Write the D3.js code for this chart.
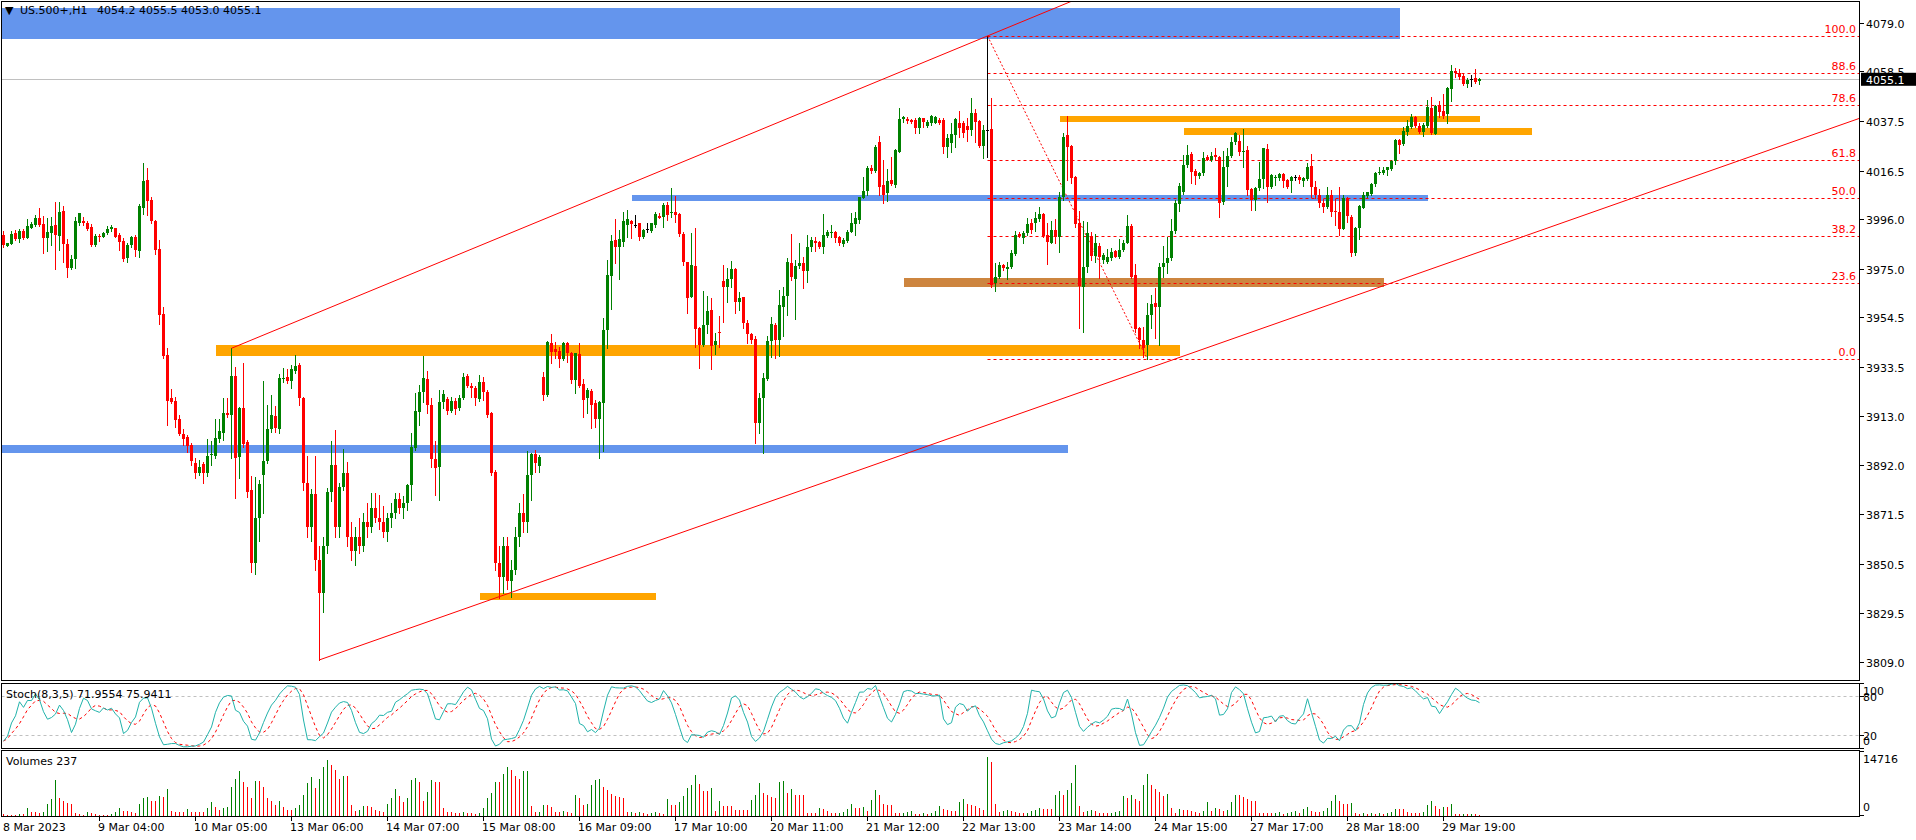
<!DOCTYPE html>
<html><head><meta charset="utf-8">
<script src="https://cdn.jsdelivr.net/npm/d3@7"></script>
<style>
body{margin:0;background:#fff;overflow:hidden}
svg{display:block}
text{font-family:"DejaVu Sans",Verdana,sans-serif;font-size:11px;white-space:pre}
</style></head><body>
<svg id="chart" width="1916" height="840"></svg>
<script>
// ---------------- DATA ----------------
const titleMarker = "▼";
const titleSymbol = "US.500+,H1";
const titleOHLC = "4054.2 4055.5 4053.0 4055.1";
const stochTitle = "Stoch(8,3,5) 71.9554 75.9411";
const volumeTitle = "Volumes 237";
const lastPrice = 4055.1;

const opens = [3989.3,3984.8,3985.5,3990.0,3987.5,3991.0,3988.2,3992.4,3993.6,3996.4,
3994.0,3988.2,3990.3,3993.6,3989.1,3999.5,3985.4,3975.5,3979.1,3994.2,
3995.4,3994.5,3992.6,3985.1,3988.8,3988.6,3990.0,3991.9,3992.2,3989.3,
3986.9,3979.5,3985.1,3988.4,3982.7,4000.9,4012.6,4004.1,3995.3,3983.4,
3956.0,3938.7,3920.4,3919.4,3911.6,3905.3,3904.2,3900.7,3893.2,3889.0,
3892.6,3889.0,3896.4,3896.0,3903.3,3905.9,3914.0,3913.3,3929.8,3895.7,
3916.1,3901.8,3881.6,3851,3870,3888.0,3894.0,3907.3,3912.9,3907.4,
3928.7,3929.2,3927.8,3932.0,3934.4,3920.7,3884.5,3866,3880,3852,
3838,3858,3880.9,3892.2,3866,3882.8,3889.0,3862,3856,3862,
3858,3868,3866,3874,3870,3868,3864,3870,3872,3878,
3874,3876,3883.8,3899.5,3914.7,3922.9,3928.5,3917.5,3894.7,3891.5,
3919.0,3920.1,3915.0,3919.2,3916.1,3920.6,3929.9,3925.7,3924.6,3920.1,
3927.1,3922.9,3914.0,3889.4,3851,3845,3858,3843,3848,3862,
3872,3868,3888.0,3896.7,3891.8,3929.5,3921.8,3943.6,3941.1,3940.4,
3936.8,3943.6,3939.4,3928.1,3939.1,3926.4,3920.4,3923.6,3918.3,3911.6,
3918.3,3949.2,3972.0,3987.2,3984.4,3986.5,3993.6,3995.3,3993.6,3994.3,
3988.6,3991.9,3991.2,3993.6,3997.5,3997.1,4002.0,3998.5,3999.2,3998.2,
3989.8,3978.1,3963.3,3976.4,3949.9,3942.9,3951.3,3957.7,3942.9,3948.4,
3969.9,3967.5,3970.6,3975.0,3961.2,3963.2,3952.0,3947.5,3945.6,3909.8,
3920.6,3928.5,3944.6,3951.3,3945.0,3959.1,3963.6,3977.7,3970.8,3976.3,
3977.4,3974.1,3984.4,3986.8,3986.5,3984.4,3989.1,3990.0,3990.8,3988.4,
3985.4,3986.8,3990.8,3994.0,3995.7,4004.8,4007.9,4017.8,4016.4,4028.8,
4010.5,4006.9,4012.6,4010.5,4024.5,4038.2,4038.5,4037.9,4037.9,4034.7,
4038.6,4035.4,4036.5,4036.8,4037.9,4037.9,4026.6,4028.3,4031.6,4036.5,
4036.5,4035.4,4033.7,4040.7,4037.6,4026.9,4033.7,4034.1,3968.9,3971.7,
3976.7,3974.8,3975.9,3981.2,3989.8,3987.9,3990.0,3994.3,3994.3,3996.0,
3998.2,3989.3,3986.1,3991.5,3988.6,4005.5,4031.6,4026.9,4014.0,3994.3,
3967.5,3975.9,3988.9,3980.5,3984.7,3978.8,3978.1,3979.5,3982.6,3980.2,
3983.0,3986.1,3993.3,3972.5,3949.9,3945.0,3942.9,3955.6,3960.5,3958.8,
3975.7,3977.6,3979.8,3991.2,4002.3,4007.4,4018.9,4023.5,4016.4,4014.3,
4015.4,4022.4,4021.0,4023.1,4022.4,4003.4,4017.9,4022.8,4028.8,4029.2,
4024.5,4025.2,4008.6,4004.1,4009.0,4012.8,4025.6,4009.8,4013.3,4013.3,
4015.1,4012.6,4012.3,4013.7,4014.0,4012.3,4013.0,4018.5,4009.8,4006.2,
4003.0,4001.3,4006.2,3999.6,3999.2,3991.9,4005.1,3997.1,3981.6,3992.2,
4000.6,4006.0,4006.7,4010.9,4015.4,4015.7,4016.8,4017.2,4020.7,4029.5,
4027.8,4033.0,4034.8,4039.3,4035.4,4033.0,4035.4,4043.1,4032.0,4044.2,
4041.7,4040.4,4051.0,4058.6,4057.9,4056.6,4053.0,4055.1,4055.8,4054.2];

const highs = [3991.0,3986.1,3991.2,3991.4,3991.7,3991.7,3995.9,3995.0,3997.8,4000.6,
3997.5,3996.4,3997.0,4003.4,4003.4,4001.6,3987.5,3980.9,3997.0,3998.8,
3996.8,3995.3,3994.0,3989.6,3989.6,3990.7,3993.1,3993.6,3992.4,3990.0,
3987.9,3985.8,3988.9,3989.3,4002.3,4019.9,4017.5,4005.5,3995.6,3987.2,
3959.1,3941.5,3924.2,3921.1,3913.3,3907.3,3904.9,3901.6,3895.0,3894.3,
3893.6,3903.0,3902.5,3911.6,3911.5,3920.7,3920.4,3941.5,3933.7,3916.8,
3935.1,3902.8,3887.6,3887,3886,3927.7,3917.5,3921.8,3917.1,3930.7,
3933.0,3932.8,3934.4,3938.7,3935.1,3921.1,3896.0,3882,3896,3858,
3862,3882.4,3902.3,3907.0,3884.5,3899.0,3893.6,3868,3866,3870,
3872,3876,3880.2,3880.2,3879.5,3875,3872,3876,3880.2,3880.2,
3879,3884,3905.6,3922.5,3926.0,3938.2,3932.0,3920.4,3902.5,3923.9,
3923.9,3921.1,3921.1,3920.4,3921.8,3930.9,3930.5,3926.7,3925.6,3930.2,
3929.2,3923.9,3914.7,3890,3858,3862,3862,3852,3866,3876,
3880,3898,3897.1,3898.5,3896.4,3931.3,3944.6,3947.5,3944.3,3942.2,
3944.3,3944.0,3940.1,3939.6,3943.6,3928.4,3924.6,3924.3,3919.7,3919.2,
3954.1,3978.8,3989.3,3996.0,3991.5,3998.9,3999.9,3995.7,3997.8,3994.6,
3991.7,3994.3,3994.6,3999.2,3998.8,4002.7,4003.4,4009.3,4006.0,3998.8,
3990.8,3978.1,3990.3,3992.4,3950.6,3965.8,3963.6,3962.7,3947.8,3955.3,
3976.7,3975.3,3978.4,3975.3,3965.1,3963.3,3953.4,3947.8,3946.7,3922.5,
3930.9,3946.7,3954.9,3952.0,3966.1,3967.5,3979.5,3989.8,3978.8,3985.8,
3980.2,3989.3,3988.4,3988.6,3986.8,3998.2,3991.5,3993.6,3991.2,3988.9,
3987.9,3991.5,3998.5,3999.2,4005.5,4013.7,4018.5,4018.9,4027.3,4031.2,
4021.0,4017.1,4022.4,4025.5,4042.8,4039.6,4039.3,4038.5,4038.6,4039.3,
4038.9,4037.9,4040.0,4039.7,4038.6,4038.6,4031.9,4036.5,4038.9,4041.9,
4037.5,4038.6,4047.1,4042.4,4037.9,4035.8,4073.4,4047.1,3977.4,3978.1,
3977.0,3978.1,3983.0,3991.2,3990.8,3991.2,3996.4,3996.0,3999.2,4001.3,
3998.8,3994.3,3995.2,3996.0,4007.5,4032.3,4039.6,4027.2,4014.3,3999.5,
3995.2,3995.0,3990.8,3989.6,3985.8,3981.6,3983.3,3983.7,3983.0,3987.5,
3987.2,3997.8,3994.0,3976.9,3950.6,3950.6,3960.5,3964.0,3966.8,3977.4,
3984.7,3988.6,3996.0,4004.1,4011.2,4023.1,4027.3,4024.4,4017.1,4016.1,
4024.5,4023.1,4024.5,4026.2,4022.7,4024.9,4025.9,4030.9,4032.7,4031.6,
4034.3,4026.9,4009.0,4009.8,4020.3,4026.2,4027.8,4015.1,4014.7,4015.7,
4015.7,4012.8,4014.3,4014.7,4014.7,4014.0,4019.9,4023.4,4012.3,4008.6,
4004.4,4009.8,4008.4,4004.4,4009.5,4006.2,4005.5,3997.8,3992.6,4002.0,
4007.7,4007.7,4011.5,4016.1,4018.2,4018.2,4018.2,4021.0,4029.7,4029.7,
4034.8,4037.9,4040.5,4039.6,4036.5,4036.5,4046.4,4047.5,4044.1,4045.9,
4048.9,4052.0,4061.1,4059.7,4059.3,4057.6,4055.5,4056.9,4059.3,4055.5];

const lows = [3984.4,3984.6,3985.4,3987.2,3986.4,3987.8,3987.9,3992.2,3993.3,3993.1,
3981.9,3982.7,3985.1,3974.8,3983.0,3978.1,3971.7,3974.8,3975.3,3993.6,
3993.6,3991.4,3984.7,3984.7,3987.0,3988.4,3989.6,3991.0,3988.4,3983.0,
3978.4,3978.1,3984.4,3980.5,3979.9,3998.2,3997.8,3994.2,3981.2,3951.8,
3937.3,3909.1,3918.2,3908.4,3904.9,3900.7,3897.8,3892.2,3886.6,3888.0,
3884.5,3887.6,3892.2,3895.0,3902.1,3902.8,3912.6,3895.0,3878.1,3886.6,
3899.9,3878.8,3847,3846,3860,3872,3892.9,3906.3,3906.3,3905.9,
3927.4,3926.7,3924.9,3931.2,3917.5,3881.7,3862,3860,3848,3809.9,
3830,3855,3877,3862,3862,3881.7,3858,3852,3850,3855,
3856,3862,3864,3868,3865,3862,3860,3866,3870,3872,
3870,3873,3877.4,3898.5,3909.1,3919.0,3914.0,3891.5,3879.5,3877.4,
3916.1,3913.6,3914.7,3913.6,3915.4,3919.9,3925.0,3921.1,3917.5,3919.2,
3919.7,3912.6,3888.0,3848,3836,3838,3840,3836.5,3846,3858,
3864,3864,3877.4,3889.4,3889.4,3919.7,3921.3,3935.4,3937.2,3933.7,
3936.6,3935.8,3926.7,3922.5,3925.3,3912.3,3914.3,3908.0,3908.4,3895.0,
3898.1,3941.5,3958.0,3977.7,3970.8,3984.8,3988.6,3987.9,3992.6,3987.2,
3987.9,3990.8,3990.8,3992.9,3996.4,3992.9,3995.7,3996.8,3995.0,3988.9,
3976.7,3956.3,3963.0,3941.9,3933.0,3942.5,3947.8,3932.6,3939.1,3942.2,
3952.5,3961.2,3967.5,3956.5,3957.7,3949.9,3943.6,3943.6,3901.4,3905.6,
3897.1,3928.1,3938.0,3937.2,3938.2,3946.7,3955.6,3970.3,3953.9,3975.3,
3966.8,3969.6,3982.6,3982.7,3983.7,3981.6,3988.6,3988.6,3986.5,3985.1,
3984.8,3986.5,3990.8,3989.3,3994.3,4004.8,4006.2,4015.7,4016.1,4006.2,
4003.0,4003.8,4010.5,4009.8,4024.5,4037.2,4036.8,4036.8,4032.3,4032.6,
4034.8,4035.1,4035.8,4036.5,4036.2,4024.1,4022.4,4024.5,4026.6,4030.9,
4030.9,4029.0,4031.6,4028.8,4026.6,4021.7,4022.4,3967.5,3965.8,3971.0,
3974.6,3970.6,3975.3,3980.9,3988.6,3986.1,3989.3,3990.0,3991.2,3995.4,
3988.6,3977.1,3985.8,3986.1,3982.3,4004.1,4012.6,4011.2,3992.6,3949.9,
3948.5,3973.9,3978.8,3978.1,3971.0,3977.4,3977.4,3978.8,3979.9,3979.5,
3982.7,3985.8,3971.0,3948.5,3941.5,3937.9,3936.8,3950,3946,3943,
3971.8,3973.2,3978.8,3990.0,3999.6,4006.7,4018.2,4011.2,4010.9,4013.3,
4014.7,4021.0,4020.7,4021.0,3997.1,4002.3,4010.2,4022.4,4027.8,4023.1,
4018.2,4006.2,3999.9,3999.9,4008.4,4009.0,4003.4,4009.3,4010.5,4012.6,
4009.8,4009.0,4007.6,4012.6,4011.4,4010.2,4012.6,4005.5,4004.8,4001.3,
3999.2,4000.6,3997.4,3993.6,3989.3,3991.7,3995.0,3980.5,3980.9,3987.7,
4000.6,4005.5,4006.2,4010.0,4015.0,4015.0,4014.7,4016.8,4019.3,4023.8,
4027.4,4031.6,4034.4,4034.8,4032.3,4031.2,4034.8,4032.0,4031.9,4039.3,
4038.6,4036.8,4045.9,4055.9,4055.1,4052.7,4052.0,4052.4,4053.4,4053.0];

const closes = [3985.1,3986.1,3989.7,3987.5,3991.0,3988.2,3993.1,3994.0,3996.4,3993.6,
3988.2,3990.7,3993.1,3989.3,3999.2,3985.4,3975.5,3979.2,3995.3,3998.5,
3994.2,3991.9,3985.1,3988.9,3988.6,3990.3,3991.9,3992.9,3988.6,3986.5,
3979.2,3985.1,3988.4,3983.0,4001.7,4012.1,4003.7,3995.3,3983.0,3955.6,
3938.2,3919.4,3918.7,3911.2,3905.2,3903.2,3900.4,3894.0,3889.0,3891.5,
3889.0,3896.2,3896.8,3903.7,3906.6,3914.0,3913.3,3929.8,3895.0,3916.4,
3901.0,3880.9,3851,3870,3884,3893.9,3907.3,3913.2,3908.0,3929.0,
3929.0,3927.8,3932.6,3934.0,3920.4,3884.5,3866,3880,3852,3838,
3858,3880.9,3892.2,3866,3882.8,3889.0,3862,3856,3862,3858,
3868,3866,3874,3870,3868,3864,3870,3872,3878,3874,
3876,3883.8,3900.0,3915.0,3923.2,3929.1,3917.5,3894.6,3891.1,3919.0,
3922.2,3915.0,3919.2,3915.7,3920.6,3929.5,3925.7,3924.6,3920.4,3927.4,
3922.9,3913.3,3888.7,3851,3845,3858,3843,3848,3862,3872,
3868,3888,3896.7,3892.9,3895.7,3921.8,3944.3,3940.1,3940.1,3936.8,
3943.6,3939.6,3928.1,3939.4,3925.7,3919.7,3923.9,3917.5,3911.6,3919.0,
3949.2,3972.4,3986.8,3984.4,3987.5,3995.3,3996.1,3993.8,3993.6,3988.6,
3991.5,3991.9,3994.3,3998.2,3996.7,4002.2,3997.8,3999.2,3997.8,3989.8,
3978.1,3962.9,3976.7,3949.5,3942.9,3951.3,3957.4,3942.6,3944.6,3947.8,
3967.5,3970.6,3975.0,3961.2,3962.9,3952.0,3947.4,3945.0,3909.8,3920.6,
3929.1,3944.6,3951.6,3945.0,3959.8,3963.6,3978.1,3971.5,3976.4,3977.7,
3974.3,3984.4,3987.2,3986.1,3984.4,3989.3,3990.8,3990.8,3988.2,3985.8,
3987.2,3990.8,3994.3,3996.4,4005.2,4007.9,4017.5,4016.4,4026.6,4009.5,
4006.2,4012.3,4010.9,4025.2,4038.2,4039.0,4037.5,4037.2,4034.4,4038.9,
4037.2,4037.2,4039.6,4039.3,4036.8,4026.6,4030.2,4032.0,4038.2,4034.4,
4032.3,4033.7,4041.0,4037.2,4026.9,4033.7,4033.7,3968.2,3971.5,3976.7,
3975.3,3975.9,3981.9,3989.3,3988.9,3990.0,3994.0,3991.5,3996.4,3998.2,
3988.9,3986.5,3991.5,3988.6,4005.5,4030.9,4026.6,4013.6,3994.0,3967.8,
3975.9,3990.0,3980.5,3985.8,3980.2,3980.9,3979.9,3982.3,3980.2,3983.0,
3985.8,3993.3,3971.8,3949.6,3945.0,3941.5,3955.6,3960.2,3958.8,3975.9,
3977.6,3979.8,3991.2,4002.7,4010.2,4018.9,4023.1,4016.1,4014.3,4015.4,
4022.0,4021.0,4022.7,4022.4,4003.0,4018.2,4022.8,4028.8,4032.3,4024.5,
4024.8,4008.4,4004.1,4009.0,4012.8,4025.9,4009.8,4014.7,4014.0,4015.1,
4012.3,4009.5,4014.0,4013.7,4012.6,4013.6,4018.2,4009.8,4006.2,4002.7,
4001.3,4006.2,3999.2,3999.2,3991.9,4005.1,3997.4,3981.6,3992.2,4001.6,
4006.2,4007.4,4010.9,4015.7,4016.1,4016.8,4018.2,4020.7,4029.5,4027.4,
4033.4,4035.4,4039.0,4035.4,4033.0,4035.8,4043.5,4032.3,4044.0,4041.4,
4039.6,4051.6,4058.6,4057.6,4056.2,4053.0,4054.8,4055.1,4053.8,4055.1];

const volumes = [470,230,230,230,470,300,1800,1000,780,620,
1000,2800,4100,8970,4300,3740,3120,2960,600,300,
230,1000,620,390,230,230,230,300,780,1950,
1250,1250,1000,620,2800,4500,4700,3740,3740,4900,
4700,6630,1250,1000,1000,1000,1560,780,780,780,
780,1950,3350,2180,1400,1800,2030,7250,9200,11300,
8420,7250,4520,8660,8580,7250,4520,3740,2730,3740,
2030,1400,1400,1800,2570,5150,8190,9600,6860,9200,
12100,14040,12700,11540,9200,9830,9830,2730,1170,1400,
2340,2340,2180,1400,1170,1000,2960,4300,6700,4900,
3350,4520,8970,9360,8420,3590,5850,8970,8420,8420,
1950,1000,800,700,600,900,700,600,500,700,
2000,4520,5700,8420,8420,10370,12100,11540,9980,9200,
11150,11300,2340,780,1000,2570,2570,2180,1000,800,
1200,900,700,5070,4520,2570,2960,7640,9050,9200,
7250,6470,5300,4900,4700,4520,780,800,600,900,
700,500,600,800,700,500,4130,2570,2570,3350,
4900,6860,7700,10070,7880,6130,6130,6830,1140,3770,
2450,2450,2450,1400,1400,1400,1400,3940,5080,8150,
5780,5080,4640,4380,8320,8580,5780,6570,5080,5080,
5080,700,700,700,2010,1580,1140,700,530,700,
880,1750,2890,2010,2010,2190,1140,3940,6390,5080,
2890,2630,2630,700,530,700,880,1140,440,440,
530,440,700,1140,2450,1580,1400,1140,1140,3500,
4200,2890,2720,2450,1800,1500,14716,13580,2890,880,
1140,1400,1140,880,530,530,700,1140,1400,2010,
1750,1750,1580,5080,6130,5080,6390,8150,12700,2280,
880,1140,1310,1140,700,530,530,700,880,1140,
4820,4380,5080,4200,3770,7710,10340,7710,6660,5960,
4910,5520,2010,700,1580,1400,1400,1140,880,530,
1140,3330,1140,2010,1580,1140,1400,3330,5080,5080,
4640,4200,3770,3770,700,530,530,530,700,880,
440,700,880,1140,700,1580,2190,1140,880,880,
1140,2010,3770,5080,3770,2890,2890,3070,530,440,
530,440,530,440,530,440,700,880,1750,1750,
1750,880,530,530,530,880,2630,3680,2450,1750,
2190,2190,2890,300,300,400,300,500,300,237];

const priceTickLabels = ["4079.0","4058.5","4037.5","4016.5","3996.0","3975.0","3954.5","3933.5","3913.0","3892.0","3871.5","3850.5","3829.5","3809.0"];
const timeTickLabels = ["8 Mar 2023","9 Mar 04:00","10 Mar 05:00","13 Mar 06:00","14 Mar 07:00","15 Mar 08:00","16 Mar 09:00","17 Mar 10:00","20 Mar 11:00","21 Mar 12:00","22 Mar 13:00","23 Mar 14:00","24 Mar 15:00","27 Mar 17:00","28 Mar 18:00","29 Mar 19:00"];
const barsPerTimeLabel = 24;

const fibLevels = [0.0, 23.6, 38.2, 50.0, 61.8, 78.6, 88.6, 100.0];
const fibAnchorBars = [246, 286];
const fibAnchorPrices = [4073.4, 3936.8];

// zones: bar range and price range, plus kind
const zoneFrom  = [-2, 157, -2, 53, 119, 225, 264, 295];
const zoneTo    = [349, 356, 266, 294, 163, 345, 369, 382];
const zoneLow   = [4072.1, 4003.8, 3897.4, 3938.3, 3835.2, 3967.5, 4037.2, 4031.6];
const zoneHigh  = [4085.2, 4006.2, 3900.7, 3942.9, 3838.3, 3971.3, 4039.6, 4034.6];
const zoneKind  = ["blue","blue","blue","orange","orange","brown","orange","orange"];

// trend lines: two anchor points each
const trendBar1 = [57, 79];
const trendPrice1 = [3941.5, 3809.9];
const trendBar2 = [246, 349];
const trendPrice2 = [4073.4, 3970.3];

const stochLevels = [20, 80];
const stochAxisLabels = ["100","80","20","0"];
const volumeAxisMax = 14716;

// ---------------- LAYOUT ----------------
const W = 1916, H = 840;
const L = 1.5, R = 1859.5;
const main = {t:1.5, b:680.5};
const st = {t:683.5, b:748.5};
const vp = {t:750.5, b:816.5};
const colors = {blue:"#6495ED", orange:"#FFA500", brown:"#CD853F", up:"#008000", down:"#FF0000", doji:"#000000"};

const svg = d3.select("#chart");
const n = closes.length;

const x = d3.scaleLinear().domain([0, 464]).range([3.5, 1859.5]);
const y = d3.scaleLinear().domain([3809, 4079]).range([662, 22.7]);
const ys = d3.scaleLinear().domain([0, 100]).range([748, 683]);
const yv = d3.scaleLinear().domain([0, volumeAxisMax]).range([815.5, 757]);

const defs = svg.append("defs");
function clip(id, t, b){ defs.append("clipPath").attr("id", id).append("rect").attr("x", L).attr("y", t).attr("width", R-L).attr("height", b-t); }
clip("cMain", main.t, main.b); clip("cSt", st.t, st.b); clip("cV", vp.t, vp.b);

svg.append("rect").attr("width", W).attr("height", H).attr("fill", "#fff");

// ---------- MAIN PANEL ----------
const gm = svg.append("g").attr("clip-path", "url(#cMain)");

gm.selectAll("rect.zone").data(d3.range(zoneFrom.length)).join("rect")
  .attr("x", i => x(zoneFrom[i])).attr("width", i => x(zoneTo[i]) - x(zoneFrom[i]))
  .attr("y", i => y(zoneHigh[i])).attr("height", i => y(zoneLow[i]) - y(zoneHigh[i]))
  .attr("fill", i => colors[zoneKind[i]]).attr("shape-rendering","crispEdges");

gm.append("line").attr("x1", L).attr("x2", R).attr("y1", Math.round(y(lastPrice))+0.5).attr("y2", Math.round(y(lastPrice))+0.5)
  .attr("stroke", "#C0C0C0").attr("stroke-width", 1);

const fibHi = fibAnchorPrices[0], fibLo = fibAnchorPrices[1];
const fibPrice = l => fibLo + (fibHi - fibLo) * l / 100;
gm.selectAll("line.fib").data(fibLevels).join("line")
  .attr("x1", x(fibAnchorBars[0])).attr("x2", R)
  .attr("y1", l => Math.round(y(fibPrice(l)))+0.5).attr("y2", l => Math.round(y(fibPrice(l)))+0.5)
  .attr("stroke", "#FF0000").attr("stroke-dasharray", "3,3").attr("stroke-width", 1);
gm.append("line")
  .attr("x1", x(fibAnchorBars[0])).attr("y1", y(fibAnchorPrices[0]))
  .attr("x2", x(fibAnchorBars[1])).attr("y2", y(fibAnchorPrices[1]))
  .attr("stroke", "#FF0000").attr("stroke-dasharray", "2,2").attr("stroke-width", 1);
svg.selectAll("text.fib").data(fibLevels).join("text")
  .attr("x", 1856).attr("y", l => y(fibPrice(l)) - 3)
  .attr("text-anchor", "end").attr("fill", "#FF0000").text(l => l.toFixed(1));

const cg = gm.append("g").attr("shape-rendering", "crispEdges");
const idx = d3.range(n);
const col = i => closes[i] > opens[i] ? colors.up : (closes[i] < opens[i] ? colors.down : colors.doji);
cg.selectAll("line.w").data(idx).join("line")
  .attr("x1", i => x(i)).attr("x2", i => x(i))
  .attr("y1", i => y(Math.max(highs[i], opens[i], closes[i]))).attr("y2", i => y(Math.min(lows[i], opens[i], closes[i])) + 1)
  .attr("stroke", col).attr("stroke-width", 1);
cg.selectAll("rect.b").data(idx).join("rect")
  .attr("x", i => x(i) - 1.5).attr("width", 3)
  .attr("y", i => y(Math.max(opens[i], closes[i])))
  .attr("height", i => Math.max(1, Math.abs(y(opens[i]) - y(closes[i]))))
  .attr("fill", col);

const tg = gm.append("g");
d3.range(trendBar1.length).forEach(k => {
  const slope = (trendPrice2[k] - trendPrice1[k]) / (trendBar2[k] - trendBar1[k]);
  const endBar = x.invert(R);
  tg.append("line")
    .attr("x1", x(trendBar1[k])).attr("y1", y(trendPrice1[k]))
    .attr("x2", x(endBar)).attr("y2", y(trendPrice1[k] + slope * (endBar - trendBar1[k])))
    .attr("stroke", "#FF0000").attr("stroke-width", 1);
});

// header
svg.append("text").attr("x", 5).attr("y", 14).attr("font-size", 9).text(titleMarker);
svg.append("text").attr("x", 20).attr("y", 14).text(titleSymbol);
svg.append("text").attr("x", 97).attr("y", 14).text(titleOHLC);

// ---------- STOCHASTIC ----------
const kLine = [], dLine = [];
for (let i = 0; i < n; i++) {
  let num = 0, den = 0;
  for (let j = Math.max(0, i - 2); j <= i; j++) {
    const s = Math.max(0, j - 7);
    const hh = d3.max(highs.slice(s, j + 1)), ll = d3.min(lows.slice(s, j + 1));
    num += closes[j] - ll; den += hh - ll;
  }
  kLine.push(den > 0 ? num / den * 100 : 50);
}
for (let i = 0; i < n; i++) dLine.push(d3.mean(kLine.slice(Math.max(0, i - 4), i + 1)));

const gs = svg.append("g").attr("clip-path", "url(#cSt)");
gs.selectAll("line.lvl").data(stochLevels).join("line")
  .attr("x1", L).attr("x2", R).attr("y1", v => Math.round(ys(v))+0.5).attr("y2", v => Math.round(ys(v))+0.5)
  .attr("stroke", "#C0C0C0").attr("stroke-dasharray", "3,3");
const ln = d3.line().x((d, i) => x(i)).y(d => ys(d));
gs.append("path").attr("d", ln(dLine)).attr("fill", "none").attr("stroke", "#FF0000").attr("stroke-dasharray", "3,3").attr("stroke-width", 1);
gs.append("path").attr("d", ln(kLine)).attr("fill", "none").attr("stroke", "#20B2AA").attr("stroke-width", 1);
svg.append("text").attr("x", 6).attr("y", st.t + 14).text(stochTitle);

// ---------- VOLUMES ----------
const gv = svg.append("g").attr("clip-path", "url(#cV)").attr("shape-rendering", "crispEdges");
gv.selectAll("line.v").data(idx).join("line")
  .attr("x1", i => x(i)).attr("x2", i => x(i))
  .attr("y1", yv(0)).attr("y2", i => yv(volumes[i]))
  .attr("stroke", i => (i > 0 && volumes[i] > volumes[i-1]) ? colors.up : colors.down);
svg.append("text").attr("x", 6).attr("y", vp.t + 14).text(volumeTitle);

// ---------- FRAMES ----------
[main, st, vp].forEach(p => svg.append("rect").attr("x", L).attr("y", p.t).attr("width", R - L).attr("height", p.b - p.t)
  .attr("fill", "none").attr("stroke", "#000").attr("shape-rendering", "crispEdges"));

// ---------- PRICE AXIS ----------
const ax = svg.append("g").attr("shape-rendering", "crispEdges");
priceTickLabels.forEach(lbl => {
  const yy = Math.round(y(+lbl)) + 0.5;
  ax.append("line").attr("x1", R).attr("x2", R + 4).attr("y1", yy).attr("y2", yy).attr("stroke", "#000");
  svg.append("text").attr("x", 1866).attr("y", yy + 4.5).attr("fill", "#000").text(lbl);
});
const ly = y(lastPrice);
svg.append("rect").attr("x", 1861).attr("y", ly - 6.5).attr("width", 55).attr("height", 13).attr("fill", "#000");
svg.append("text").attr("x", 1866).attr("y", ly + 4.5).attr("fill", "#fff").text(lastPrice.toFixed(1));

const stochLabelY = [691, 697, 736, 741];
stochAxisLabels.forEach((lbl, k) => {
  ax.append("line").attr("x1", R).attr("x2", R + 4).attr("y1", Math.round(ys(+lbl))+0.5).attr("y2", Math.round(ys(+lbl))+0.5).attr("stroke", "#000");
  svg.append("text").attr("x", 1863).attr("y", stochLabelY[k] + 4).text(lbl);
});
ax.append("line").attr("x1", R).attr("x2", R + 4).attr("y1", 751.5).attr("y2", 751.5).attr("stroke", "#000");
ax.append("line").attr("x1", R).attr("x2", R + 4).attr("y1", 815.5).attr("y2", 815.5).attr("stroke", "#000");
svg.append("text").attr("x", 1863).attr("y", 763).text(d3.format("d")(volumeAxisMax));
svg.append("text").attr("x", 1863).attr("y", 811).text("0");

// ---------- TIME AXIS ----------
timeTickLabels.forEach((lbl, k) => {
  const xx = x(k * barsPerTimeLabel);
  if (k > 0) ax.append("line").attr("x1", xx).attr("x2", xx).attr("y1", vp.b).attr("y2", vp.b + 4).attr("stroke", "#000");
  svg.append("text").attr("x", k === 0 ? 3 : xx - 1.5).attr("y", 831).attr("fill", "#000").text(lbl);
});
</script>
</body></html>
